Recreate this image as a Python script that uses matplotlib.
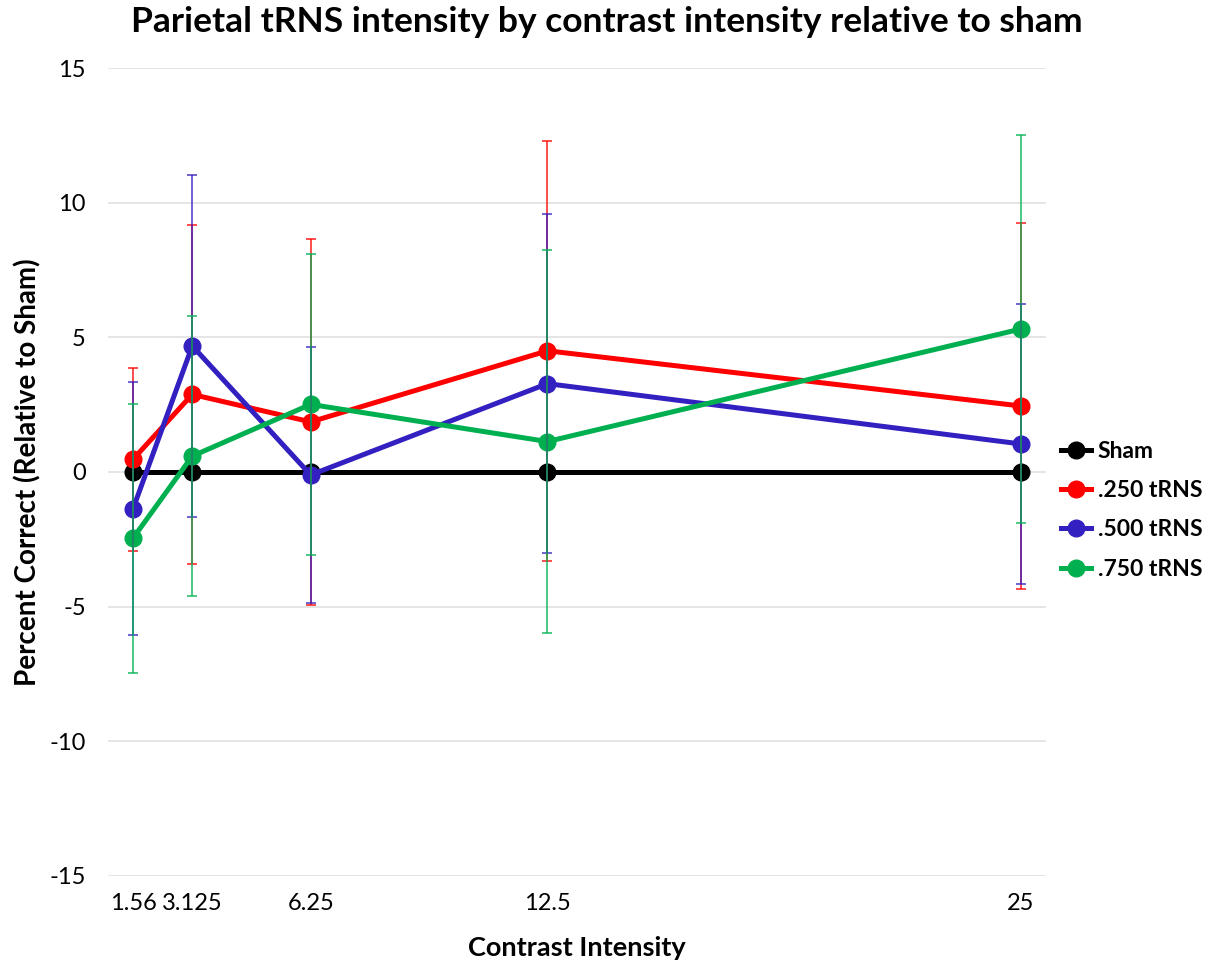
import matplotlib
matplotlib.use("Agg")
import matplotlib.pyplot as plt

plt.rcParams['font.family'] = ['Lato', 'DejaVu Sans']
plt.rcParams['axes.unicode_minus'] = False

# contrast levels and mean difference from sham (percent correct)
contraste = [1.56, 3.125, 6.25, 12.5, 25]
etiquettes = ["1.56", "3.125", "6.25", "12.5", "25"]

sham = [0, 0, 0, 0, 0]
trns250 = [0.47, 2.88, 1.86, 4.50, 2.45]
trns500 = [-1.37, 4.68, -0.11, 3.28, 1.04]
trns750 = [-2.46, 0.59, 2.51, 1.13, 5.31]

err250 = [3.4, 6.3, 6.8, 7.8, 6.8]
err500 = [4.7, 6.35, 4.75, 6.3, 5.2]
err750 = [5.0, 5.2, 5.6, 7.1, 7.2]

fig = plt.figure(figsize=(12.27, 9.66), dpi=100)
ax = fig.add_axes([0.088, 0.0932, 0.7645, 0.8364])

series = [
    ("Sham", sham, None, "#000000"),
    (".250 tRNS", trns250, err250, "#FF0000"),
    (".500 tRNS", trns500, err500, "#3320C0"),
    (".750 tRNS", trns750, err750, "#00B050"),
]

for i, (nom, y, err, coul) in enumerate(series):
    ax.plot(contraste, y, color=coul, lw=3.6, marker="o", ms=12,
            label=nom, zorder=3 + i * 0.1)
    if err is not None:
        ax.errorbar(contraste, y, yerr=err, fmt="none", ecolor=coul,
                    elinewidth=1.4, capsize=3.5, capthick=1.4,
                    alpha=0.7, zorder=6)

ax.set_xlim(0.9, 25.66)
ax.set_ylim(-15, 15)
ax.set_yticks(range(-15, 16, 5))
ax.set_xticks(contraste)
ax.set_xticklabels(etiquettes)
ax.tick_params(length=0, labelsize=17)
ax.tick_params(axis="y", pad=16)
ax.tick_params(axis="x", pad=12)
ax.grid(axis="y", color="#E3E3E3", lw=1.3)
ax.set_axisbelow(True)
for s in ax.spines.values():
    s.set_visible(False)

fig.text(607 / 1227, 1 - 22 / 966,
         "Parietal tRNS intensity by contrast intensity relative to sham",
         fontsize=25.5, fontweight="bold", ha="center", va="center")
fig.text(577 / 1227, 1 - 948 / 966, "Contrast Intensity", fontsize=19.5,
         fontweight="bold", ha="center", va="center")
fig.text(28 / 1227, 1 - 472 / 966, "Percent Correct (Relative to Sham)",
         fontsize=20, fontweight="bold", ha="center", va="center",
         rotation=90)

fig.legend(loc="center left", bbox_to_anchor=(0.848, 0.472), frameon=False,
           prop={"size": 16.5, "weight": "bold"}, handlelength=1.3,
           handletextpad=0.3, labelspacing=0.8)

fig.savefig("out.png", dpi=100)
